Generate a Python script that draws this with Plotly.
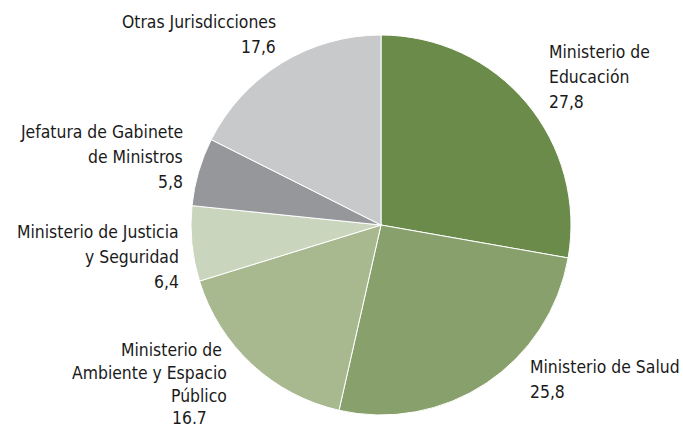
import plotly.graph_objects as go

categories = ["Ministerio de Educación", "Ministerio de Salud",
              "Ministerio de Ambiente y Espacio Público",
              "Ministerio de Justicia y Seguridad",
              "Jefatura de Gabinete de Ministros", "Otras Jurisdicciones"]
values = [27.8, 25.8, 16.7, 6.4, 5.8, 17.6]
value_labels = ["27,8", "25,8", "16.7", "6,4", "5,8", "17,6"]
colors = ["#6b8b4a", "#88a06b", "#a8b990", "#cad5bd", "#96979b", "#c8c9cb"]

W, H = 683, 430
FONT = "DejaVu Sans Condensed, Liberation Sans Narrow, Noto Sans, sans-serif"
FS = 17.4

fig = go.Figure(go.Pie(
    labels=categories, values=values, sort=False, direction="clockwise",
    rotation=0, textinfo="none", hoverinfo="label+value",
    marker=dict(colors=colors, line=dict(color="white", width=1)),
    domain=dict(x=[(381 - 190) / W, (381 + 190) / W],
                y=[1 - 415 / H, 1 - 35 / H]),
    showlegend=False,
))

# label blocks: (lines, x anchor px, first line center y px, xanchor, line spacing)
label_lines = [
    (["Ministerio de", "Educación", value_labels[0]], 548, 52, "left", 25),
    (["Ministerio de Salud", value_labels[1]], 529, 367, "left", 25),
    (["Ministerio de ", "Ambiente y Espacio", "Público"], 228, 350, "right", 23),
    (["Ministerio de Justicia", "y Seguridad", value_labels[3]], 180, 232, "right", 25),
    (["Jefatura de Gabinete", "de Ministros", value_labels[4]], 184, 132, "right", 25),
    (["Otras Jurisdicciones", value_labels[5]], 277, 22, "right", 25),
]
for lines, x, y0, anchor, ls in label_lines:
    for i, t in enumerate(lines):
        fig.add_annotation(x=x / W, y=1 - (y0 + i * ls) / H, xref="paper", yref="paper",
                           text=t, showarrow=False, xanchor=anchor, yanchor="middle",
                           borderpad=0,
                           font=dict(family=FONT, size=FS, color="#1a1a1a"))
# value under "Público"
fig.add_annotation(x=189 / W, y=1 - 418 / H, xref="paper", yref="paper",
                   text=value_labels[2], showarrow=False, xanchor="center", yanchor="middle",
                   borderpad=0,
                   font=dict(family=FONT, size=FS, color="#1a1a1a"))

fig.update_layout(width=W, height=H, margin=dict(l=0, r=0, t=0, b=0),
                  paper_bgcolor="white", plot_bgcolor="white")
fig.write_html("out.html", config={"displayModeBar": False},
               post_script="document.body.style.margin='0';document.body.style.overflow='hidden';")
